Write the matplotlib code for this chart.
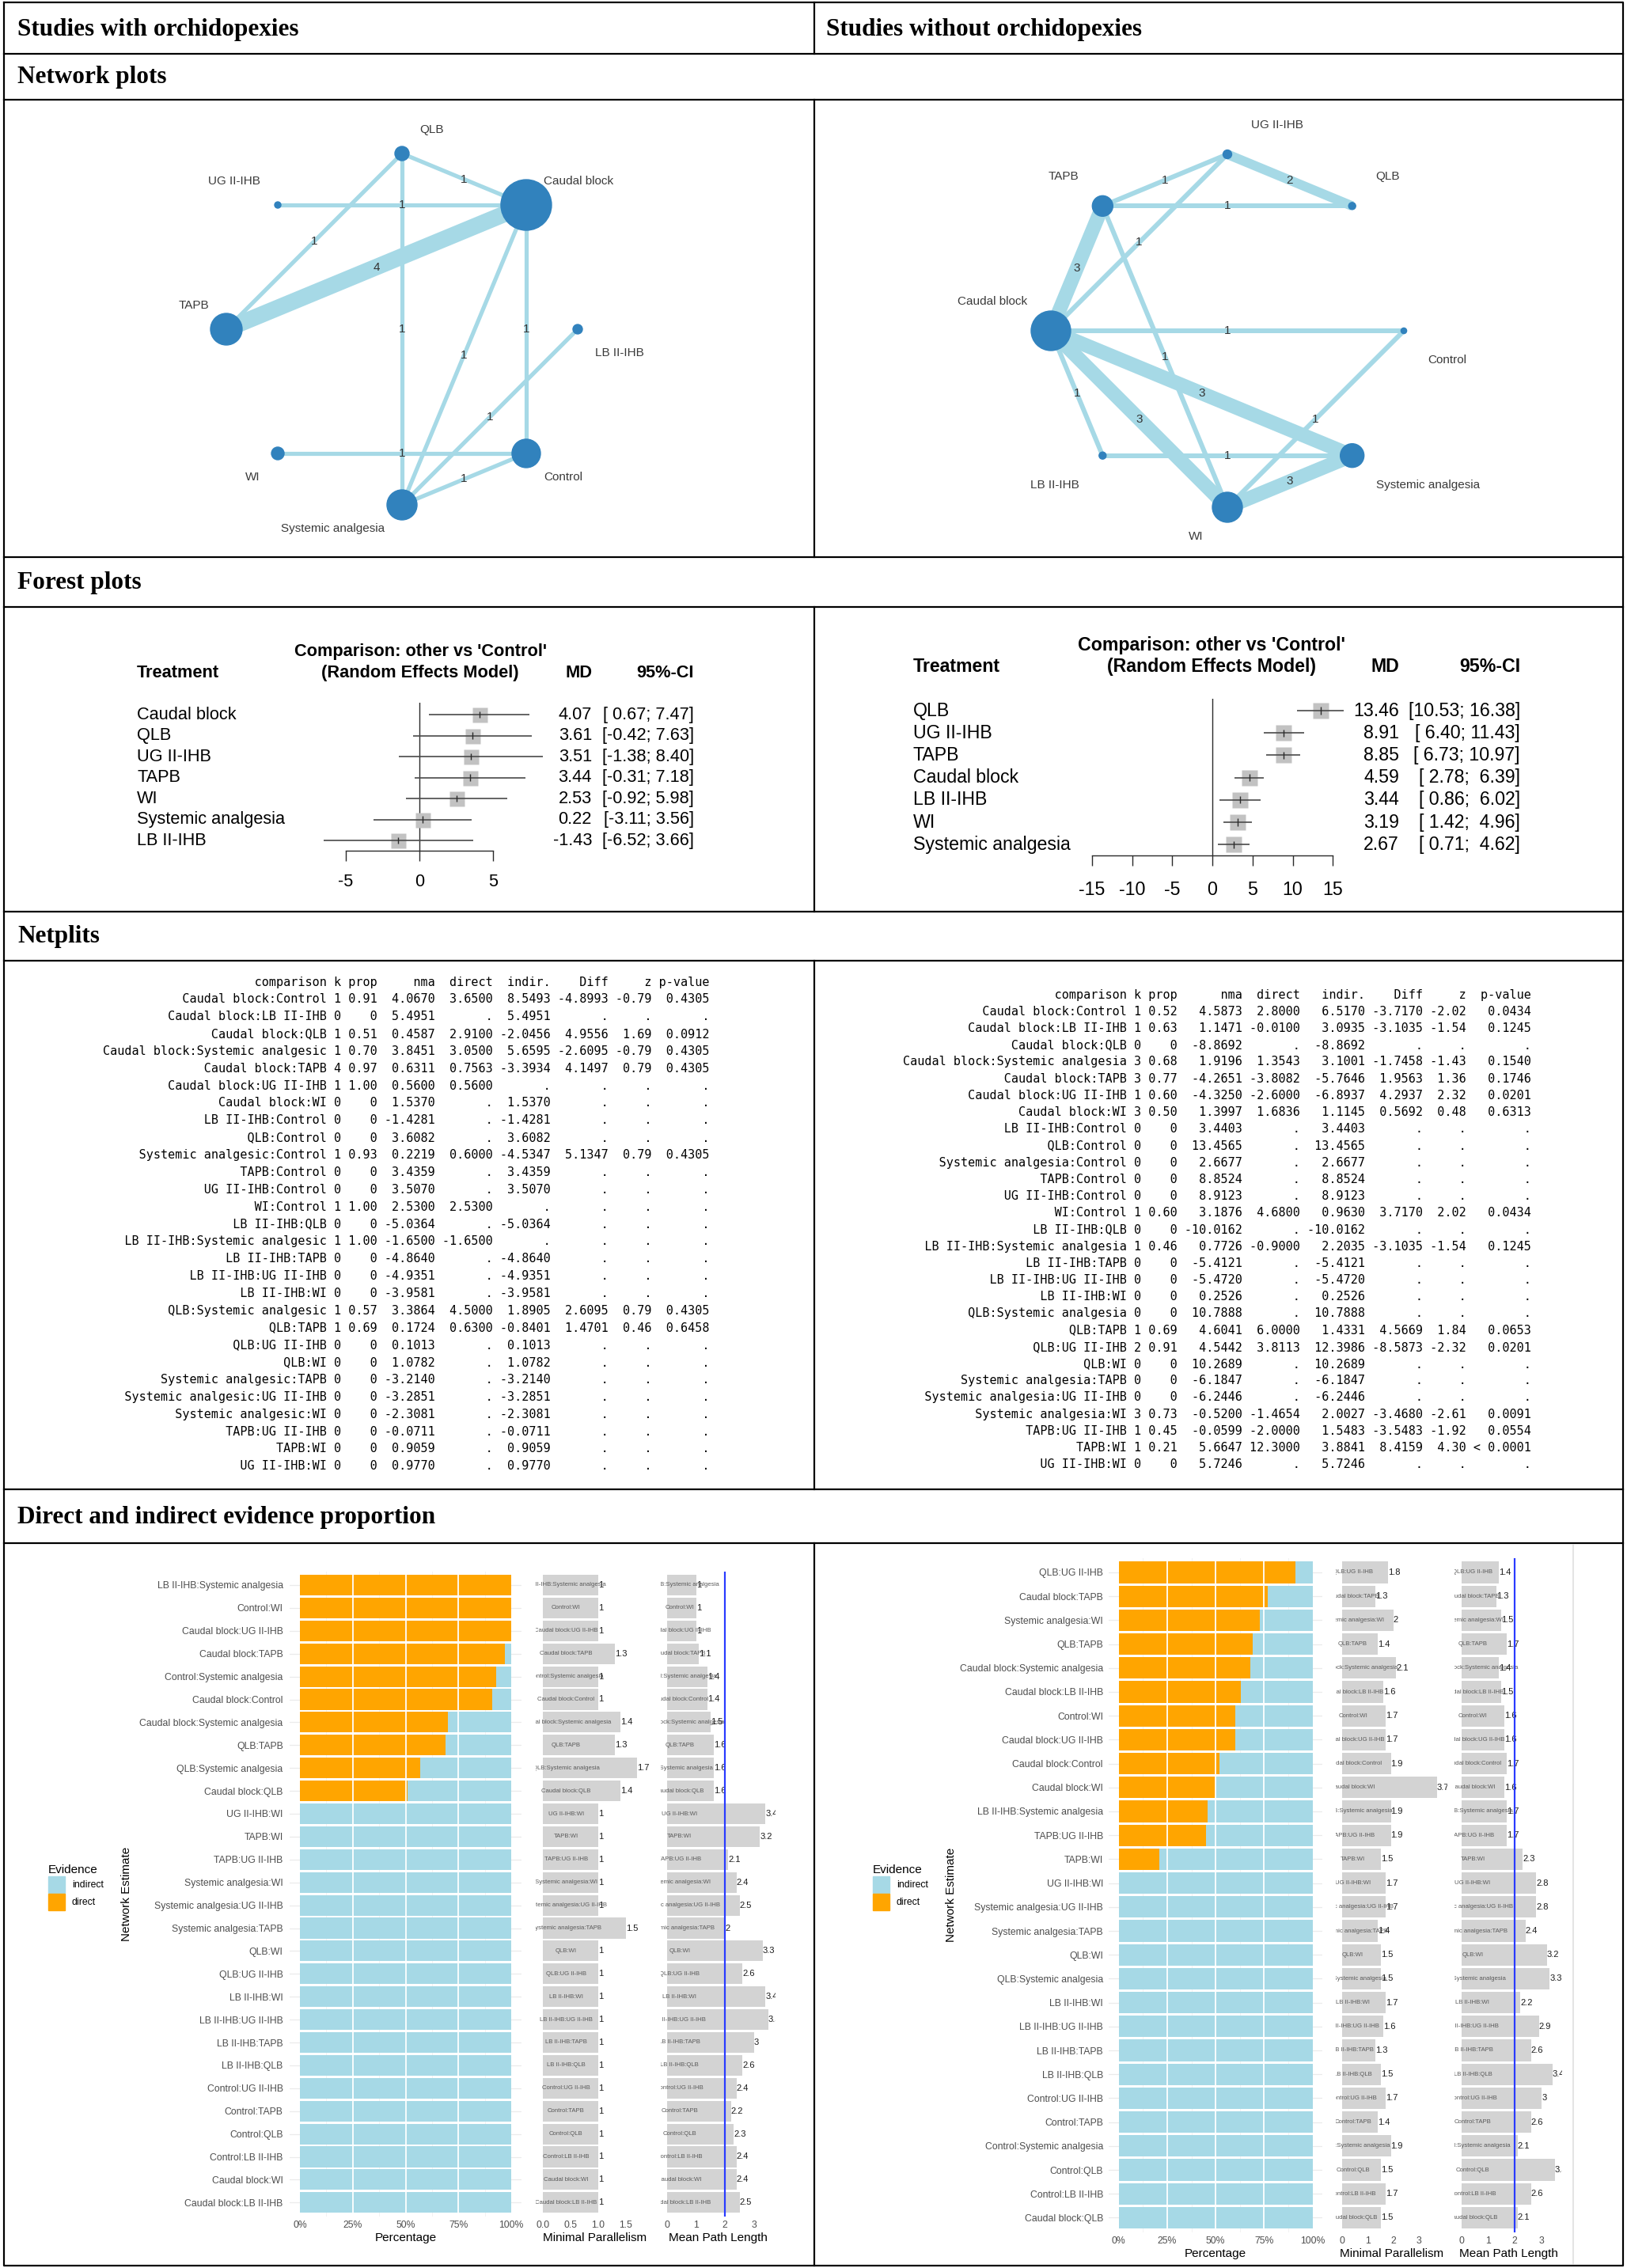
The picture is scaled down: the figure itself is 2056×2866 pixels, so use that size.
import numpy as np
import matplotlib
matplotlib.use("Agg")
import matplotlib.pyplot as plt
from matplotlib.patches import Circle, Patch

plt.rcParams["axes.unicode_minus"] = False
SANS = ["Liberation Sans", "DejaVu Sans"]
SERIF = ["Liberation Serif", "DejaVu Serif"]
MONO = ["DejaVu Sans Mono"]
plt.rcParams["font.family"] = SANS

W, H = 2056, 2866
PX = 0.72  # points per pixel at dpi 100

EDGE = "#a6d9e6"
NODE = "#3182bd"
ORANGE = "#ffa500"
LBLUE = "#a6d9e6"

# ---------------- network plots ----------------
# treatments in circular order, clockwise from the top
net_with_nodes = ["QLB", "Caudal block", "LB II-IHB", "Control",
                  "Systemic analgesia", "WI", "TAPB", "UG II-IHB"]
net_with_size = [9, 32, 6, 18, 19, 8, 20, 4]
net_with_a = ["QLB", "UG II-IHB", "QLB", "TAPB", "QLB", "Caudal block",
              "Caudal block", "LB II-IHB", "WI", "Systemic analgesia"]
net_with_b = ["Caudal block", "Caudal block", "TAPB", "Caudal block",
              "Systemic analgesia", "Systemic analgesia", "Control",
              "Systemic analgesia", "Control", "Control"]
net_with_k = [1, 1, 1, 4, 1, 1, 1, 1, 1, 1]

net_wo_nodes = ["UG II-IHB", "QLB", "Control", "Systemic analgesia", "WI",
                "LB II-IHB", "Caudal block", "TAPB"]
net_wo_size = [5.5, 4.5, 3.6, 15, 19, 4.5, 25, 13]
net_wo_a = ["TAPB", "UG II-IHB", "TAPB", "Caudal block", "Caudal block",
            "Caudal block", "TAPB", "Caudal block", "Caudal block",
            "Caudal block", "LB II-IHB", "Control", "WI"]
net_wo_b = ["UG II-IHB", "QLB", "QLB", "UG II-IHB", "TAPB", "Control", "WI",
            "Systemic analgesia", "WI", "LB II-IHB", "Systemic analgesia",
            "WI", "Systemic analgesia"]
net_wo_k = [1, 2, 1, 1, 3, 1, 1, 3, 3, 1, 1, 1, 3]

# ---------------- forest plots ----------------
fp_with_trt = ["Caudal block", "QLB", "UG II-IHB", "TAPB", "WI",
               "Systemic analgesia", "LB II-IHB"]
fp_with_md = [4.07, 3.61, 3.51, 3.44, 2.53, 0.22, -1.43]
fp_with_lo = [0.67, -0.42, -1.38, -0.31, -0.92, -3.11, -6.52]
fp_with_hi = [7.47, 7.63, 8.40, 7.18, 5.98, 3.56, 3.66]

fp_wo_trt = ["QLB", "UG II-IHB", "TAPB", "Caudal block", "LB II-IHB", "WI",
             "Systemic analgesia"]
fp_wo_md = [13.46, 8.91, 8.85, 4.59, 3.44, 3.19, 2.67]
fp_wo_lo = [10.53, 6.40, 6.73, 2.78, 0.86, 1.42, 0.71]
fp_wo_hi = [16.38, 11.43, 10.97, 6.39, 6.02, 4.96, 4.62]

# ---------------- netsplit tables ----------------
_ = None
ns_with_cmp = ["Caudal block:Control", "Caudal block:LB II-IHB", "Caudal block:QLB",
               "Caudal block:Systemic analgesic", "Caudal block:TAPB",
               "Caudal block:UG II-IHB", "Caudal block:WI", "LB II-IHB:Control",
               "QLB:Control", "Systemic analgesic:Control", "TAPB:Control",
               "UG II-IHB:Control", "WI:Control", "LB II-IHB:QLB",
               "LB II-IHB:Systemic analgesic", "LB II-IHB:TAPB", "LB II-IHB:UG II-IHB",
               "LB II-IHB:WI", "QLB:Systemic analgesic", "QLB:TAPB", "QLB:UG II-IHB",
               "QLB:WI", "Systemic analgesic:TAPB", "Systemic analgesic:UG II-IHB",
               "Systemic analgesic:WI", "TAPB:UG II-IHB", "TAPB:WI", "UG II-IHB:WI"]
ns_with_k = [1, 0, 1, 1, 4, 1, 0, 0, 0, 1, 0, 0, 1, 0, 1, 0, 0, 0, 1, 1, 0, 0, 0, 0, 0, 0, 0, 0]
ns_with_prop = [0.91, 0, 0.51, 0.70, 0.97, 1.00, 0, 0, 0, 0.93, 0, 0, 1.00, 0, 1.00,
                0, 0, 0, 0.57, 0.69, 0, 0, 0, 0, 0, 0, 0, 0]
ns_with_nma = [4.0670, 5.4951, 0.4587, 3.8451, 0.6311, 0.5600, 1.5370, -1.4281,
               3.6082, 0.2219, 3.4359, 3.5070, 2.5300, -5.0364, -1.6500, -4.8640,
               -4.9351, -3.9581, 3.3864, 0.1724, 0.1013, 1.0782, -3.2140, -3.2851,
               -2.3081, -0.0711, 0.9059, 0.9770]
ns_with_direct = [3.6500, _, 2.9100, 3.0500, 0.7563, 0.5600, _, _, _, 0.6000, _, _,
                  2.5300, _, -1.6500, _, _, _, 4.5000, 0.6300, _, _, _, _, _, _, _, _]
ns_with_indir = [8.5493, 5.4951, -2.0456, 5.6595, -3.3934, _, 1.5370, -1.4281,
                 3.6082, -4.5347, 3.4359, 3.5070, _, -5.0364, _, -4.8640, -4.9351,
                 -3.9581, 1.8905, -0.8401, 0.1013, 1.0782, -3.2140, -3.2851,
                 -2.3081, -0.0711, 0.9059, 0.9770]
ns_with_diff = [-4.8993, _, 4.9556, -2.6095, 4.1497, _, _, _, _, 5.1347, _, _, _, _,
                _, _, _, _, 2.6095, 1.4701, _, _, _, _, _, _, _, _]
ns_with_z = [-0.79, _, 1.69, -0.79, 0.79, _, _, _, _, 0.79, _, _, _, _, _, _, _, _,
             0.79, 0.46, _, _, _, _, _, _, _, _]
ns_with_p = [0.4305, _, 0.0912, 0.4305, 0.4305, _, _, _, _, 0.4305, _, _, _, _, _,
             _, _, _, 0.4305, 0.6458, _, _, _, _, _, _, _, _]

ns_wo_cmp = ["Caudal block:Control", "Caudal block:LB II-IHB", "Caudal block:QLB",
             "Caudal block:Systemic analgesia", "Caudal block:TAPB",
             "Caudal block:UG II-IHB", "Caudal block:WI", "LB II-IHB:Control",
             "QLB:Control", "Systemic analgesia:Control", "TAPB:Control",
             "UG II-IHB:Control", "WI:Control", "LB II-IHB:QLB",
             "LB II-IHB:Systemic analgesia", "LB II-IHB:TAPB", "LB II-IHB:UG II-IHB",
             "LB II-IHB:WI", "QLB:Systemic analgesia", "QLB:TAPB", "QLB:UG II-IHB",
             "QLB:WI", "Systemic analgesia:TAPB", "Systemic analgesia:UG II-IHB",
             "Systemic analgesia:WI", "TAPB:UG II-IHB", "TAPB:WI", "UG II-IHB:WI"]
ns_wo_k = [1, 1, 0, 3, 3, 1, 3, 0, 0, 0, 0, 0, 1, 0, 1, 0, 0, 0, 0, 1, 2, 0, 0, 0, 3, 1, 1, 0]
ns_wo_prop = [0.52, 0.63, 0, 0.68, 0.77, 0.60, 0.50, 0, 0, 0, 0, 0, 0.60, 0, 0.46,
              0, 0, 0, 0, 0.69, 0.91, 0, 0, 0, 0.73, 0.45, 0.21, 0]
ns_wo_nma = [4.5873, 1.1471, -8.8692, 1.9196, -4.2651, -4.3250, 1.3997, 3.4403,
             13.4565, 2.6677, 8.8524, 8.9123, 3.1876, -10.0162, 0.7726, -5.4121,
             -5.4720, 0.2526, 10.7888, 4.6041, 4.5442, 10.2689, -6.1847, -6.2446,
             -0.5200, -0.0599, 5.6647, 5.7246]
ns_wo_direct = [2.8000, -0.0100, _, 1.3543, -3.8082, -2.6000, 1.6836, _, _, _, _, _,
                4.6800, _, -0.9000, _, _, _, _, 6.0000, 3.8113, _, _, _, -1.4654,
                -2.0000, 12.3000, _]
ns_wo_indir = [6.5170, 3.0935, -8.8692, 3.1001, -5.7646, -6.8937, 1.1145, 3.4403,
               13.4565, 2.6677, 8.8524, 8.9123, 0.9630, -10.0162, 2.2035, -5.4121,
               -5.4720, 0.2526, 10.7888, 1.4331, 12.3986, 10.2689, -6.1847, -6.2446,
               2.0027, 1.5483, 3.8841, 5.7246]
ns_wo_diff = [-3.7170, -3.1035, _, -1.7458, 1.9563, 4.2937, 0.5692, _, _, _, _, _,
              3.7170, _, -3.1035, _, _, _, _, 4.5669, -8.5873, _, _, _, -3.4680,
              -3.5483, 8.4159, _]
ns_wo_z = [-2.02, -1.54, _, -1.43, 1.36, 2.32, 0.48, _, _, _, _, _, 2.02, _, -1.54,
           _, _, _, _, 1.84, -2.32, _, _, _, -2.61, -1.92, 4.30, _]
ns_wo_p = [0.0434, 0.1245, _, 0.1540, 0.1746, 0.0201, 0.6313, _, _, _, _, _, 0.0434,
           _, 0.1245, _, _, _, _, 0.0653, 0.0201, _, _, _, 0.0091, 0.0554,
           "< 0.0001", _]

# ---------------- direct / indirect evidence ----------------
ev_with_cmp = ["LB II-IHB:Systemic analgesia", "Control:WI", "Caudal block:UG II-IHB",
               "Caudal block:TAPB", "Control:Systemic analgesia", "Caudal block:Control",
               "Caudal block:Systemic analgesia", "QLB:TAPB", "QLB:Systemic analgesia",
               "Caudal block:QLB", "UG II-IHB:WI", "TAPB:WI", "TAPB:UG II-IHB",
               "Systemic analgesia:WI", "Systemic analgesia:UG II-IHB",
               "Systemic analgesia:TAPB", "QLB:WI", "QLB:UG II-IHB", "LB II-IHB:WI",
               "LB II-IHB:UG II-IHB", "LB II-IHB:TAPB", "LB II-IHB:QLB",
               "Control:UG II-IHB", "Control:TAPB", "Control:QLB", "Control:LB II-IHB",
               "Caudal block:WI", "Caudal block:LB II-IHB"]
ev_with_direct = [1.00, 1.00, 1.00, 0.97, 0.93, 0.91, 0.70, 0.69, 0.57, 0.51,
                  0, 0, 0, 0, 0, 0, 0, 0, 0, 0, 0, 0, 0, 0, 0, 0, 0, 0]
ev_with_mp = [1, 1, 1, 1.3, 1, 1, 1.4, 1.3, 1.7, 1.4, 1, 1, 1, 1, 1, 1.5, 1, 1, 1, 1,
              1, 1, 1, 1, 1, 1, 1, 1]
ev_with_mpl = [1, 1, 1, 1.1, 1.4, 1.4, 1.5, 1.6, 1.6, 1.6, 3.4, 3.2, 2.1, 2.4, 2.5, 2,
               3.3, 2.6, 3.4, 3.5, 3, 2.6, 2.4, 2.2, 2.3, 2.4, 2.4, 2.5]

ev_wo_cmp = ["QLB:UG II-IHB", "Caudal block:TAPB", "Systemic analgesia:WI", "QLB:TAPB",
             "Caudal block:Systemic analgesia", "Caudal block:LB II-IHB", "Control:WI",
             "Caudal block:UG II-IHB", "Caudal block:Control", "Caudal block:WI",
             "LB II-IHB:Systemic analgesia", "TAPB:UG II-IHB", "TAPB:WI", "UG II-IHB:WI",
             "Systemic analgesia:UG II-IHB", "Systemic analgesia:TAPB", "QLB:WI",
             "QLB:Systemic analgesia", "LB II-IHB:WI", "LB II-IHB:UG II-IHB",
             "LB II-IHB:TAPB", "LB II-IHB:QLB", "Control:UG II-IHB", "Control:TAPB",
             "Control:Systemic analgesia", "Control:QLB", "Control:LB II-IHB",
             "Caudal block:QLB"]
ev_wo_direct = [0.91, 0.77, 0.73, 0.69, 0.68, 0.63, 0.60, 0.60, 0.52, 0.50, 0.46, 0.45,
                0.21, 0, 0, 0, 0, 0, 0, 0, 0, 0, 0, 0, 0, 0, 0, 0]
ev_wo_mp = [1.8, 1.3, 2, 1.4, 2.1, 1.6, 1.7, 1.7, 1.9, 3.7, 1.9, 1.9, 1.5, 1.7, 1.7, 1.4,
            1.5, 1.5, 1.7, 1.6, 1.3, 1.5, 1.7, 1.4, 1.9, 1.5, 1.7, 1.5]
ev_wo_mpl = [1.4, 1.3, 1.5, 1.7, 1.4, 1.5, 1.6, 1.6, 1.7, 1.6, 1.7, 1.7, 2.3, 2.8, 2.8,
             2.4, 3.2, 3.3, 2.2, 2.9, 2.6, 3.4, 3, 2.6, 2.1, 3.5, 2.6, 2.1]


fig = plt.figure(figsize=(W / 100, H / 100), dpi=100)


def box(x0, y0, x1, y1):
    # pixel box (top-left origin) -> figure fraction rect
    return [x0 / W, 1 - y1 / H, (x1 - x0) / W, (y1 - y0) / H]


page = fig.add_axes([0, 0, 1, 1])
page.set_xlim(0, W)
page.set_ylim(H, 0)
page.axis("off")

# table frame
L, R, T, B = 5, 2051, 3, 2863
MID = 1029
lw_frame = 2.2 * PX
page.plot([L, R, R, L, L], [T, T, B, B, T], color="black", lw=lw_frame)
for y in [68, 126, 704, 767, 1152, 1214, 1882, 1950]:
    page.plot([L, R], [y, y], color="black", lw=lw_frame)
for y0, y1 in [(T, 68), (126, 704), (767, 1152), (1214, 1882), (1950, B)]:
    page.plot([MID, MID], [y0, y1], color="black", lw=lw_frame)

hdr = dict(family=SERIF, weight="bold", fontsize=22.5, va="center", ha="left")
page.text(22, 37, "Studies with orchidopexies", **hdr)
page.text(1044, 37, "Studies without orchidopexies", **hdr)
page.text(22, 97, "Network plots", **hdr)
page.text(22, 736, "Forest plots", **hdr)
page.text(22, 1183, "Netplits", **hdr)
page.text(22, 1917, "Direct and indirect evidence proportion", **hdr)


def network(cell, center, radius, nodes, sizes, ea, eb, ek, lw_unit, lab_dx, lab_dy):
    x0, y0, x1, y1 = cell
    ax = fig.add_axes(box(*cell))
    ax.set_xlim(x0, x1)
    ax.set_ylim(y1, y0)
    ax.axis("off")
    ang = np.deg2rad(90 - 45 * np.arange(len(nodes)))
    pos = {n: (center[0] + radius * np.cos(a), center[1] - radius * np.sin(a))
           for n, a in zip(nodes, ang)}
    for a, b, k in zip(ea, eb, ek):
        (xa, ya), (xb, yb) = pos[a], pos[b]
        ax.plot([xa, xb], [ya, yb], color=EDGE, lw=k * lw_unit * PX,
                solid_capstyle="butt", zorder=1)
        ax.text((xa + xb) / 2, (ya + yb) / 2, str(k), ha="center", va="center",
                fontsize=11, color="#333333", zorder=4)
    for n, s, a in zip(nodes, sizes, ang):
        ax.add_patch(Circle(pos[n], s, color=NODE, zorder=3))
        side = np.sign(np.cos(a - np.deg2rad(10)))
        vert = np.sign(np.sin(a - np.deg2rad(10)))
        ax.text(pos[n][0] + side * lab_dx, pos[n][1] - vert * lab_dy, n,
                ha="left" if side > 0 else "right", va="center",
                fontsize=11, color="#3a3a3a")


network((8, 128, 1027, 702), (508, 416), 222, net_with_nodes, net_with_size,
        net_with_a, net_with_b, net_with_k, 5.2, 22, 30)
network((1031, 128, 2049, 702), (1551, 418), 223, net_wo_nodes, net_wo_size,
        net_wo_a, net_wo_b, net_wo_k, 6.0, 30, 37)


def forest(trt, md, lo, hi, zero, ppu, xlim, row0, pitch, top, bottom, ticks,
           lab_x, md_x, ci_x, title_x, md_hdr_x, hdr_y, fs, sq, pad):
    ax = fig.add_axes(box(zero + xlim[0] * ppu, top, zero + xlim[1] * ppu, bottom))
    ax.set_xlim(*xlim)
    ax.set_ylim((bottom - row0) / pitch, (top - row0) / pitch)
    rows = np.arange(len(trt))
    ax.axvline(0, color="#2b2b2b", lw=1.4 * PX, zorder=1)
    ax.plot(md, rows, ls="none", marker="s", ms=sq * PX, color="#c2c2c2",
            mec="none", zorder=2)
    ax.hlines(rows, lo, hi, color="#4d4d4d", lw=1.7 * PX, zorder=3)
    ax.vlines(md, rows - 0.16, rows + 0.16, color="#2b2b2b", lw=1.4 * PX, zorder=3)
    for s in ["top", "right", "left"]:
        ax.spines[s].set_visible(False)
    ax.spines["bottom"].set_bounds(ticks[0], ticks[-1])
    ax.spines["bottom"].set_linewidth(1.4 * PX)
    ax.spines["bottom"].set_color("#2b2b2b")
    ax.set_yticks([])
    ax.set_xticks(ticks)
    ax.tick_params(axis="x", length=13 * PX, width=1.4 * PX, color="#2b2b2b",
                   labelsize=fs, pad=pad)
    ax.patch.set_visible(False)

    wl = max(len(f"{v:.2f}") for v in lo)
    wu = max(len(f"{v:.2f}") for v in hi)
    bold = dict(fontsize=fs, weight="bold", va="center")
    page.text(title_x, hdr_y[0], "Comparison: other vs 'Control'", ha="center", **bold)
    page.text(title_x, hdr_y[1], "(Random Effects Model)", ha="center", **bold)
    page.text(lab_x, hdr_y[1], "Treatment", ha="left", **bold)
    page.text(md_hdr_x, hdr_y[1], "MD", ha="center", **bold)
    page.text(ci_x, hdr_y[1], "95%-CI", ha="right", **bold)
    for i, t in enumerate(trt):
        y = row0 + i * pitch
        page.text(lab_x, y, t, ha="left", va="center", fontsize=fs)
        page.text(md_x, y, f"{md[i]:.2f}", ha="right", va="center", fontsize=fs)
        page.text(ci_x, y, f"[{lo[i]:>{wl}.2f}; {hi[i]:>{wu}.2f}]", ha="right",
                  va="center", fontsize=fs)


forest(fp_with_trt, fp_with_md, fp_with_lo, fp_with_hi, zero=530, ppu=18.6,
       xlim=(-10, 10), row0=903, pitch=26.5, top=888, bottom=1075, ticks=[-5, 0, 5],
       lab_x=173, md_x=748, ci_x=877, title_x=531, md_hdr_x=731, hdr_y=(823, 850),
       fs=15.7, sq=19, pad=11.5)
forest(fp_wo_trt, fp_wo_md, fp_wo_lo, fp_wo_hi, zero=1532, ppu=10.15,
       xlim=(-18, 18), row0=898, pitch=28.2, top=883, bottom=1081,
       ticks=[-15, -10, -5, 0, 5, 10, 15], lab_x=1154, md_x=1768, ci_x=1921,
       title_x=1531, md_hdr_x=1750, hdr_y=(815, 842), fs=16.7, sq=20, pad=14)


def num(v, d):
    return "." if v is None else f"{v:.{d}f}"


def netsplit_lines(cmp, k, prop, nma, direct, indir, diff, z, p):
    cols = [["comparison"] + cmp,
            ["k"] + [str(v) for v in k],
            ["prop"] + ["0" if v == 0 else f"{v:.2f}" for v in prop],
            ["nma"] + [num(v, 4) for v in nma],
            ["direct"] + [num(v, 4) for v in direct],
            ["indir."] + [num(v, 4) for v in indir],
            ["Diff"] + [num(v, 4) for v in diff],
            ["z"] + [num(v, 2) for v in z],
            ["p-value"] + [v if isinstance(v, str) else num(v, 4) for v in p]]
    widths = [max(len(s) for s in c) for c in cols]
    return [" ".join(c[i].rjust(w) for c, w in zip(cols, widths))
            for i in range(len(cmp) + 1)]


for lines, xr, y0, pitch in [
        (netsplit_lines(ns_with_cmp, ns_with_k, ns_with_prop, ns_with_nma, ns_with_direct,
                        ns_with_indir, ns_with_diff, ns_with_z, ns_with_p), 897, 1241, 21.85),
        (netsplit_lines(ns_wo_cmp, ns_wo_k, ns_wo_prop, ns_wo_nma, ns_wo_direct,
                        ns_wo_indir, ns_wo_diff, ns_wo_z, ns_wo_p), 1935, 1257, 21.2)]:
    for i, line in enumerate(lines):
        page.text(xr, y0 + i * pitch, line, ha="right", va="center",
                  family=MONO, fontsize=10.9, color="black")


def evidence(cmp, direct, mp, mpl, bar0, bar1, row0, pitch, lab_pad,
             mp_zero, mp_ppu, mp_lim, mp_ticks, mp_labels,
             mpl_zero, mpl_ppu, mpl_lim, leg_xy, ylab_x):
    n = len(cmp)
    top = row0 - 0.6 * pitch
    bot = row0 + (n - 1 + 0.6) * pitch
    span = bar1 - bar0
    y = np.arange(n)
    d = np.array(direct, dtype=float)

    ax = fig.add_axes(box(bar0 - 0.05 * span, top, bar1 + 0.05 * span, bot))
    ax.set_xlim(-0.05, 1.05)
    ax.set_ylim(n - 1 + 0.6, -0.6)
    for xv in [0.125, 0.375, 0.625, 0.875]:
        ax.axvline(xv, color="#f2f2f2", lw=1 * PX, zorder=0)
    for j in y:
        ax.axhline(j, color="#ebebeb", lw=1.3 * PX, zorder=0)
    ax.barh(y, d, height=0.9, color=ORANGE, zorder=2)
    ax.barh(y, 1 - d, left=d, height=0.9, color=LBLUE, zorder=2)
    ax.vlines([0.25, 0.5, 0.75], -0.6, n - 0.4, color="white", lw=1.8 * PX, zorder=3)
    for s in ax.spines.values():
        s.set_visible(False)
    ax.set_yticks(y, cmp)
    ax.set_xticks([0, 0.25, 0.5, 0.75, 1], ["0%", "25%", "50%", "75%", "100%"])
    ax.tick_params(axis="y", length=0, pad=lab_pad * PX, labelsize=8.8,
                   labelcolor="#4d4d4d")
    ax.tick_params(axis="x", length=0, pad=4, labelsize=8.8, labelcolor="#4d4d4d")
    ax.set_xlabel("Percentage", fontsize=11, labelpad=2)
    ax.patch.set_visible(False)
    page.text(ylab_x, (top + bot) / 2, "Network Estimate", rotation=90,
              ha="center", va="center", fontsize=11)

    fig.legend(handles=[Patch(color=LBLUE, label="indirect"),
                        Patch(color=ORANGE, label="direct")],
               title="Evidence", loc="upper left",
               bbox_to_anchor=(leg_xy[0] / W, 1 - leg_xy[1] / H),
               frameon=False, fontsize=8.8, title_fontsize=11, alignment="left",
               handlelength=1.75, handleheight=2.26, labelspacing=0.08,
               handletextpad=0.7, borderpad=0, borderaxespad=0)

    panels = [(mp, mp_zero, mp_ppu, mp_lim, mp_ticks, mp_labels, "Minimal Parallelism", False),
              (mpl, mpl_zero, mpl_ppu, mpl_lim, [0, 1, 2, 3], ["0", "1", "2", "3"],
               "Mean Path Length", True)]
    for vals, zero, ppu, lim, ticks, tlab, title, ref in panels:
        a = fig.add_axes(box(zero + lim[0] * ppu, top, zero + lim[1] * ppu, bot))
        a.set_xlim(*lim)
        a.set_ylim(n - 1 + 0.6, -0.6)
        a.barh(y, vals, height=0.9, color="#d3d3d3", zorder=1)
        for j, (c, v) in enumerate(zip(cmp, vals)):
            a.text(0.42, j, c, ha="center", va="center", fontsize=5.6,
                   color="#5a5a5a", clip_on=True, zorder=2)
            a.text(v, j, f"{round(v, 1):g}", ha="left", va="center", fontsize=8,
                   color="#1a1a1a", clip_on=True, zorder=2)
        if ref:
            a.axvline(2, color="#2a3bff", lw=2.2 * PX, zorder=3)
        for s in a.spines.values():
            s.set_visible(False)
        a.set_yticks([])
        a.set_xticks(ticks, tlab)
        a.tick_params(axis="x", length=0, pad=4, labelsize=8.8, labelcolor="#4d4d4d")
        a.set_xlabel(title, fontsize=11, labelpad=2)
        a.patch.set_visible(False)


evidence(ev_with_cmp, ev_with_direct, ev_with_mp, ev_with_mpl,
         bar0=379, bar1=646, row0=2003, pitch=28.9, lab_pad=8,
         mp_zero=686, mp_ppu=70, mp_lim=(-0.13, 2.0),
         mp_ticks=[0, 0.5, 1, 1.5], mp_labels=["0.0", "0.5", "1.0", "1.5"],
         mpl_zero=843.3, mpl_ppu=36.5, mpl_lim=(-0.23, 3.75),
         leg_xy=(61, 2356), ylab_x=160)
evidence(ev_wo_cmp, ev_wo_direct, ev_wo_mp, ev_wo_mpl,
         bar0=1413.7, bar1=1658.6, row0=1987, pitch=30.2, lab_pad=7.5,
         mp_zero=1696, mp_ppu=32.4, mp_lim=(-0.25, 4.1),
         mp_ticks=[0, 1, 2, 3], mp_labels=["0", "1", "2", "3"],
         mpl_zero=1846.7, mpl_ppu=33.8, mpl_lim=(-0.26, 3.77),
         leg_xy=(1103, 2356), ylab_x=1202)

# edge of the right-hand evidence image
page.plot([1988, 1988], [1952, 2861], color="#dcdcdc", lw=1.5 * PX)

fig.savefig("out.png", dpi=100)
